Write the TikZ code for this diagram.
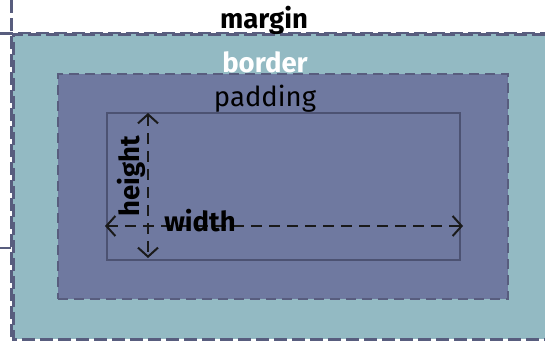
\documentclass[tikz,border=0pt]{standalone}
\usepackage{fontspec}
\setmainfont{Fira Sans}
\usetikzlibrary{arrows.meta}

\definecolor{bordercol}{HTML}{93BAC3}
\definecolor{paddingcol}{HTML}{6F79A0}
\definecolor{dashcol}{HTML}{585D7E}
\definecolor{contentcol}{HTML}{4C5272}
\definecolor{dimcol}{HTML}{1A1A1A}

\begin{document}
\begin{tikzpicture}[x=1bp, y=-1bp,
      box/.style = {draw=dashcol, line width=3bp, dash pattern=on 13bp off 5bp},
      padbox/.style = {draw=dashcol, line width=2.6bp, dash pattern=on 10bp off 6bp},
      lbl/.style = {font=\fontsize{27.5bp}{32bp}\selectfont, anchor=base, inner sep=0pt},
      blbl/.style = {lbl, font=\fontsize{27.5bp}{32bp}\selectfont\bfseries},
      dim/.style = {draw=dimcol, line width=2bp, dash pattern=on 11bp off 7bp,
      {Straight Barb[length=9bp, width=20bp]}-{Straight Barb[length=9bp, width=20bp]}} ]
   \useasboundingbox (0,0) rectangle (545,341);

   % margin guide lines
   \coordinate (mt) at (11,0);
   \coordinate (mb) at (11,341);
   \coordinate (ml) at (0,33);
   \coordinate (mr) at (545,33);
   \draw[box] (mt) -- (mb);
   \draw[box] (ml) -- (mr);
   \draw[draw=dashcol, line width=2.5bp] (0,248) -- (11,248);

   % boxes
   \fill[bordercol] (13,34) rectangle (545,339);
   \draw[box] (545,34) -- (13,34) -- (13,339) -- (545,339);
   \node (padding) [padbox, fill=paddingcol, minimum width=450bp,
                    minimum height=225bp, inner sep=0pt] at (283,186.5) {};
   \node (content) [draw=contentcol, line width=2.2bp, minimum width=353bp,
                    minimum height=147bp, inner sep=0pt] at (283.5,186.5) {};

   % labels
   \node (lmargin)  [blbl] at (264,28) {margin};
   \node (lborder)  [blbl, text=white] at (265,72) {border};
   \node (lpadding) [lbl] at (265,106) {padding};

   % dimensions
   \coordinate (htop) at (148,113);
   \coordinate (hbot) at (148,258);
   \coordinate (wl)   at (105,226);
   \coordinate (wr)   at (463,226);
   \draw[dim] (htop) -- (hbot);
   \draw[dim] (wl) -- (wr);
   \node (lheight) [blbl, rotate=90] at (139,176) {height};
   \node (lwidth)  [blbl] at (200,231) {width};
\end{tikzpicture}
\end{document}
